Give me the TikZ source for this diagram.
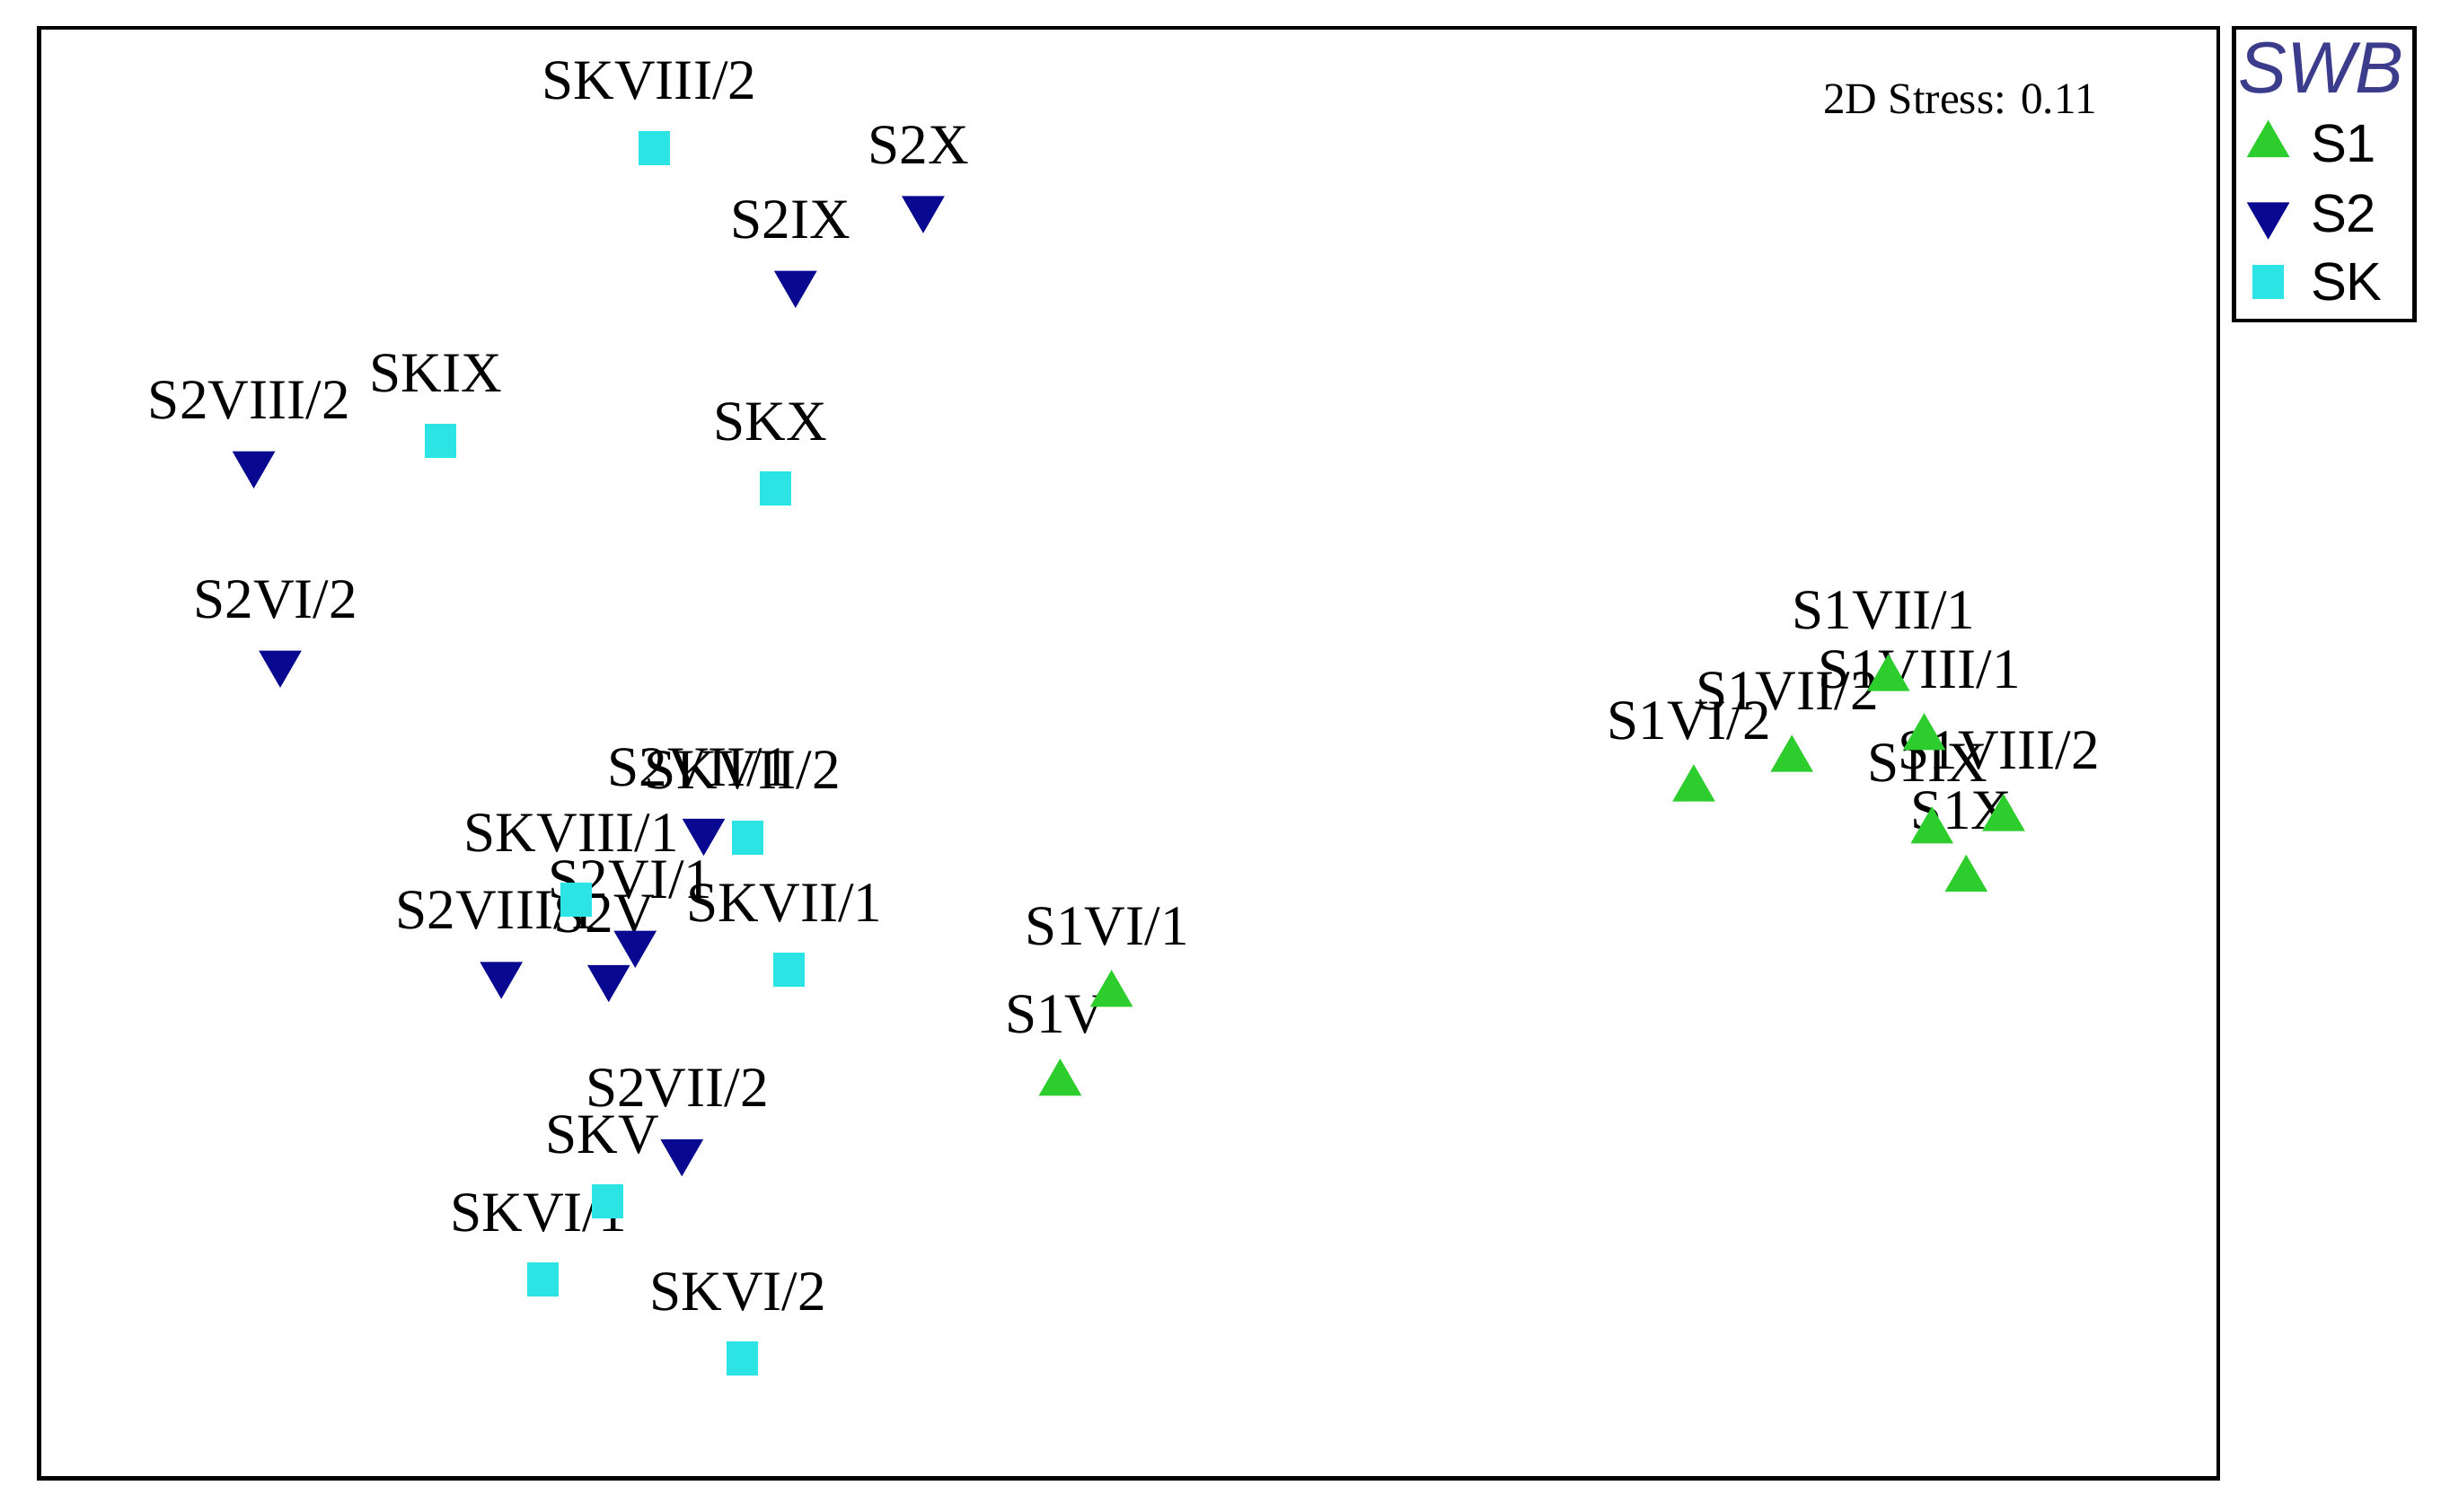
\documentclass[tikz,border=0pt]{standalone}
\usepackage{fontspec}
\setmainfont{Liberation Serif}
\newfontfamily\legendfont{Liberation Sans}
\usetikzlibrary{shapes.geometric}
\definecolor{sonegreen}{RGB}{45,205,45}
\definecolor{stwoblue}{RGB}{8,8,145}
\definecolor{skcyan}{RGB}{45,228,228}
\definecolor{swbblue}{RGB}{60,60,140}

\begin{document}
\begin{tikzpicture}[x=0.17334mm,y=-0.17334mm,
	upmark/.style={regular polygon, regular polygon sides=3, fill=sonegreen, inner sep=0pt, minimum size=0.55cm, yshift=-0.07cm},
	downmark/.style={regular polygon, regular polygon sides=3, shape border rotate=180, fill=stwoblue, inner sep=0pt, minimum size=0.55cm, yshift=0.07cm},
	sqmark/.style={rectangle, fill=skcyan, inner sep=0pt, minimum width=0.35cm, minimum height=0.38cm},
	samplelbl/.style={anchor=base, inner sep=0pt, font=\fontsize{18}{20}\selectfont},
	legendlbl/.style={anchor=base west, inner sep=0pt, font=\legendfont\fontsize{17}{19}\selectfont}]
		\useasboundingbox (0,0) rectangle (1568,971);
		\draw[line width=1.3pt] (25,18) rectangle (1425,950);
		\foreach \x/\y/\n/\t in {714/635/s1vi1/{S1VI/1}, 681/692/s1v/{S1V}, 1088/503/s1vi2/{S1VI/2}, 1151/484/s1vii2/{S1VII/2}, 1213/432/s1vii1/{S1VII/1}, 1236/470/s1viii1/{S1VIII/1}, 1287/522/s1viii2/{S1VIII/2}, 1241/530/s1ix/{S1IX}, 1263/561/s1x/{S1X}}
			\node[samplelbl] (\n-t) at (\x-3,\y-28) {\t};
		\foreach \x/\y/\n/\t in {593/138/s2x/{S2X}, 511/186/s2ix/{S2IX}, 163/302/s2viii2/{S2VIII/2}, 180/430/s2vi2/{S2VI/2}, 452/538/s2vii1/{S2VII/1}, 408/610/s2vi1/{S2VI/1}, 391/632/s2v/{S2V}, 322/630/s2viii1/{S2VIII/1}, 438/744/s2vii2/{S2VII/2}}
			\node[samplelbl] (\n-t) at (\x-3,\y-33) {\t};
		\foreach \x/\y/\n/\t in {420/95/skviii2/{SKVIII/2}, 283/283/skix/{SKIX}, 498/314/skx/{SKX}, 480/538/skvii2/{SKVII/2}, 370/578/skviii1/{SKVIII/1}, 507/623/skvii1/{SKVII/1}, 390/772/skv/{SKV}, 349/822/skvi1/{SKVI/1}, 477/873/skvi2/{SKVI/2}}
			\node[samplelbl] (\n-t) at (\x-3,\y-31) {\t};
		\foreach \x/\y/\n in {714/635/s1vi1, 681/692/s1v, 1088/503/s1vi2, 1151/484/s1vii2, 1213/432/s1vii1, 1236/470/s1viii1, 1287/522/s1viii2, 1241/530/s1ix, 1263/561/s1x}
			\node[upmark] (\n) at (\x,\y) {};
		\foreach \x/\y/\n in {593/138/s2x, 511/186/s2ix, 163/302/s2viii2, 180/430/s2vi2, 452/538/s2vii1, 408/610/s2vi1, 391/632/s2v, 322/630/s2viii1, 438/744/s2vii2}
			\node[downmark] (\n) at (\x,\y) {};
		\foreach \x/\y/\n in {420/95/skviii2, 283/283/skix, 498/314/skx, 480/538/skvii2, 370/578/skviii1, 507/623/skvii1, 390/772/skv, 349/822/skvi1, 477/873/skvi2}
			\node[sqmark] (\n) at (\x,\y) {};
		\node[anchor=base, font=\fontsize{14}{16}\selectfont] (stress) at (1259,73) {2D Stress: 0.11};
		\draw[line width=1.3pt] (1435,18) rectangle (1551,206);
		\node[anchor=base, inner sep=0pt, text=swbblue, font=\legendfont\itshape\fontsize{23}{25}\selectfont] (swb) at (1491,60) {SWB};
		\node[upmark] (leg-s1) at (1457,89) {};
		\node[downmark] (leg-s2) at (1457,142) {};
		\node[sqmark] (leg-sk) at (1457,181) {};
		\node[legendlbl] (leg-s1-t) at (1484,104) {S1};
		\node[legendlbl] (leg-s2-t) at (1484,149) {S2};
		\node[legendlbl] (leg-sk-t) at (1484,193) {SK};
	\end{tikzpicture}
\end{document}
